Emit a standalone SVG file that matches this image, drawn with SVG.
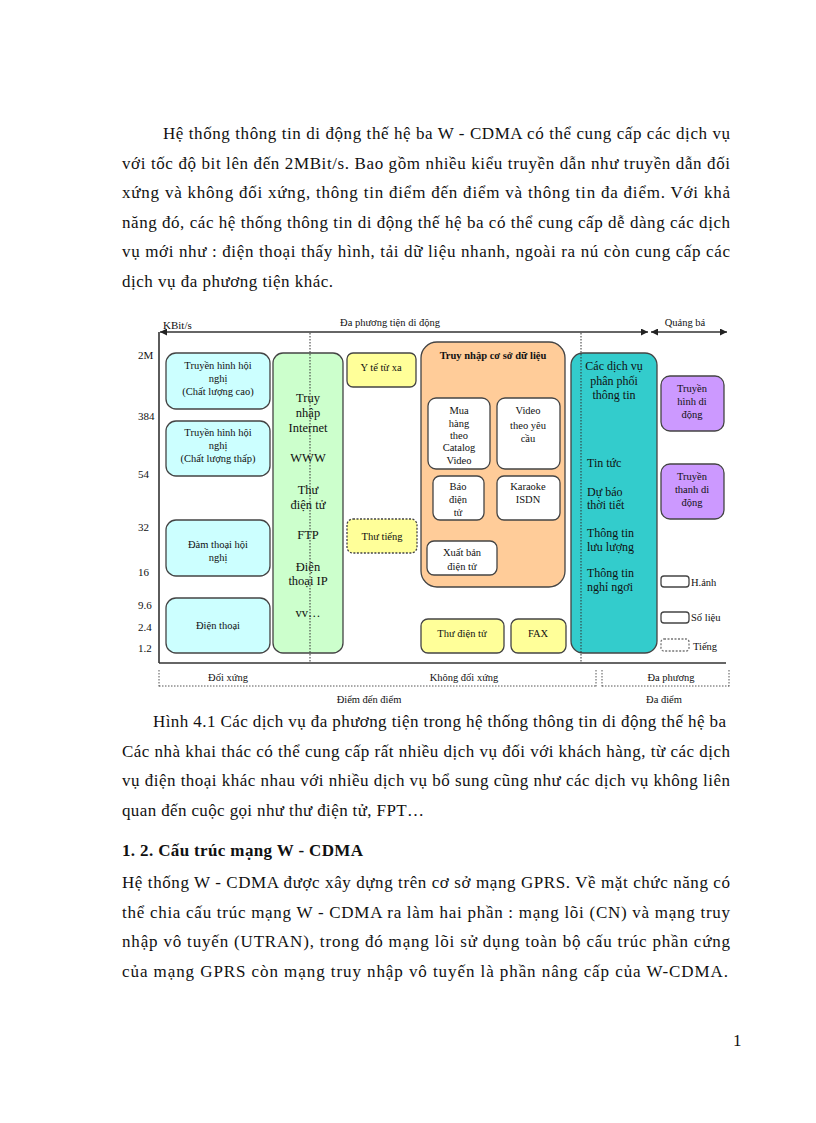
<svg xmlns="http://www.w3.org/2000/svg" width="816" height="1123" viewBox="0 0 816 1123">
<defs>
<style>
.body{font-family:"Liberation Serif","Times New Roman",serif;font-size:17px;fill:#111}
.bold{font-weight:bold}
.d{font-family:"Liberation Serif","Times New Roman",serif;font-size:10.5px;fill:#111;text-anchor:middle}
.dl{font-family:"Liberation Serif","Times New Roman",serif;font-size:10.5px;fill:#111}
.g{font-family:"Liberation Serif","Times New Roman",serif;font-size:12.5px;fill:#111;text-anchor:middle}
.t{font-family:"Liberation Serif","Times New Roman",serif;font-size:12px;fill:#111}
.ax{font-family:"Liberation Serif","Times New Roman",serif;font-size:11px;fill:#111}
.box{stroke:#444;stroke-width:1.3}
.cyan{fill:#ccffff}
.green{fill:#ccffcc}
.yel{fill:#ffff99}
.org{fill:#ffcc99}
.teal{fill:#33cccc}
.pur{fill:#cc99ff}
.wht{fill:#ffffff}
.dash{stroke-dasharray:2,1.5}
.axis{stroke:#333;stroke-width:1.6;fill:none}
.dot{stroke:#555;stroke-width:1;stroke-dasharray:1.5,1.5;fill:none}
</style>
<marker id="ah" viewBox="0 0 10 10" refX="10" refY="5" markerWidth="7" markerHeight="7" markerUnits="userSpaceOnUse" orient="auto-start-reverse">
<path d="M0,0 L10,5 L0,10 z" fill="#222"/>
</marker>
</defs>
<rect width="816" height="1123" fill="#ffffff"/>

<!-- paragraph 1 -->
<g id="para1">
<text class="body" x="163" y="139" textLength="567" lengthAdjust="spacing">Hệ thống thông tin di động thế hệ ba W - CDMA có thể cung cấp các dịch vụ</text>
<text class="body" x="122" y="168.5" textLength="608" lengthAdjust="spacing">với tốc độ bit lên đến 2MBit/s. Bao gồm nhiều kiểu truyền dẫn như truyền dẫn đối</text>
<text class="body" x="122" y="198" textLength="608" lengthAdjust="spacing">xứng và không đối xứng, thông tin điểm đến điểm và thông tin đa điểm. Với khả</text>
<text class="body" x="122" y="227.5" textLength="608" lengthAdjust="spacing">năng đó, các hệ thống thông tin di động thế hệ ba có thể cung cấp dễ dàng các dịch</text>
<text class="body" x="122" y="257" textLength="608" lengthAdjust="spacing">vụ mới như : điện thoại thấy hình, tải dữ liệu nhanh, ngoài ra nú còn cung cấp các</text>
<text class="body" x="122" y="286.5" textLength="211" lengthAdjust="spacing">dịch vụ đa phương tiện khác.</text>
</g>

<!-- axes -->
<g id="connectors">
<line class="axis" x1="159" y1="332" x2="159" y2="663"/>
<line class="axis" x1="159" y1="663" x2="726" y2="663"/>
<line class="axis" x1="160" y1="332" x2="648" y2="332" marker-start="url(#ah)" marker-end="url(#ah)"/>
<line class="axis" x1="651" y1="332" x2="727" y2="332" marker-start="url(#ah)" marker-end="url(#ah)"/>
<line class="dot" x1="159" y1="686" x2="596" y2="686"/>
<line class="dot" x1="602" y1="686" x2="729" y2="686"/>
<line class="dot" x1="159" y1="670" x2="159" y2="687"/>
<line class="dot" x1="596" y1="670" x2="596" y2="687"/>
<line class="dot" x1="602" y1="670" x2="602" y2="687"/>
<line class="dot" x1="729" y1="670" x2="729" y2="687"/>
</g>

<g id="axis-labels">
<text class="ax" x="163" y="329">KBit/s</text>
<text class="dl" x="390" y="326" text-anchor="middle">Đa phương tiện di động</text>
<text class="dl" x="685" y="326" text-anchor="middle">Quảng bá</text>
<text class="ax" x="138" y="359">2M</text>
<text class="ax" x="138" y="420">384</text>
<text class="ax" x="138" y="478">54</text>
<text class="ax" x="138" y="531">32</text>
<text class="ax" x="138" y="576">16</text>
<text class="ax" x="138" y="609">9.6</text>
<text class="ax" x="138" y="631">2.4</text>
<text class="ax" x="138" y="652">1.2</text>
<text class="d" x="228" y="681">Đối xứng</text>
<text class="d" x="464" y="681">Không đối xứng</text>
<text class="d" x="671" y="681">Đa phương</text>
<text class="d" x="369" y="703">Điểm đến điểm</text>
<text class="d" x="664" y="703">Đa điểm</text>
</g>

<g id="n-thh-cao">
<rect class="box cyan" x="166" y="353" width="104" height="56" rx="10"/>
<text class="d" x="218" y="369">Truyền hình hội</text>
<text class="d" x="218" y="382">nghị</text>
<text class="d" x="218" y="395">(Chất lượng cao)</text>
</g>
<g id="n-thh-thap">
<rect class="box cyan" x="166" y="421" width="104" height="55" rx="10"/>
<text class="d" x="218" y="436">Truyền hình hội</text>
<text class="d" x="218" y="449">nghị</text>
<text class="d" x="218" y="462">(Chất lượng thấp)</text>
</g>
<g id="n-damthoai">
<rect class="box cyan" x="166" y="520" width="104" height="56" rx="10"/>
<text class="d" x="218" y="548">Đàm thoại hội</text>
<text class="d" x="218" y="561">nghị</text>
</g>
<g id="n-dienthoai">
<rect class="box cyan" x="166" y="598" width="104" height="55" rx="10"/>
<text class="d" x="218" y="629">Điện thoại</text>
</g>

<g id="n-internet">
<rect class="box green" x="273" y="353" width="70" height="300" rx="10"/>
<text class="g" x="308" y="402">Truy</text>
<text class="g" x="308" y="417">nhập</text>
<text class="g" x="308" y="432">Internet</text>
<text class="g" x="308" y="462">WWW</text>
<text class="g" x="308" y="494">Thư</text>
<text class="g" x="308" y="509">điện tử</text>
<text class="g" x="308" y="539">FTP</text>
<text class="g" x="308" y="571">Điện</text>
<text class="g" x="308" y="585">thoại IP</text>
<text class="g" x="308" y="617">vv…</text>
</g>

<g id="n-yte">
<rect class="box yel" x="347" y="353" width="69" height="34" rx="6"/>
<text class="d" x="381" y="371">Y tế từ xa</text>
</g>
<g id="n-thutieng">
<rect class="box yel dash" x="347" y="519" width="70" height="34" rx="6"/>
<text class="d" x="382" y="540">Thư tiếng</text>
</g>
<g id="n-thudientu">
<rect class="box yel" x="421" y="619" width="83" height="34" rx="7"/>
<text class="d" x="462" y="637">Thư điện tử</text>
</g>
<g id="n-fax">
<rect class="box yel" x="511" y="619" width="55" height="34" rx="7"/>
<text class="d" x="538" y="637">FAX</text>
</g>

<g id="n-csdl">
<rect class="box org" x="421" y="342" width="144" height="245" rx="16"/>
<text class="d bold" x="493" y="359">Truy nhập cơ sở dữ liệu</text>
</g>
<g id="n-muahang">
<rect class="box wht" x="428" y="398" width="62" height="71" rx="8"/>
<text class="d" x="459" y="414">Mua</text>
<text class="d" x="459" y="427">hàng</text>
<text class="d" x="459" y="439">theo</text>
<text class="d" x="459" y="451">Catalog</text>
<text class="d" x="459" y="464">Video</text>
</g>
<g id="n-video">
<rect class="box wht" x="497" y="398" width="63" height="71" rx="8"/>
<text class="d" x="528" y="414">Video</text>
<text class="d" x="528" y="429">theo yêu</text>
<text class="d" x="528" y="442">cầu</text>
</g>
<g id="n-bao">
<rect class="box wht" x="433" y="476" width="51" height="44" rx="7"/>
<text class="d" x="458" y="490">Báo</text>
<text class="d" x="458" y="503">điện</text>
<text class="d" x="458" y="516">tử</text>
</g>
<g id="n-karaoke">
<rect class="box wht" x="497" y="476" width="63" height="44" rx="7"/>
<text class="d" x="528" y="490">Karaoke</text>
<text class="d" x="528" y="503">ISDN</text>
</g>
<g id="n-xuatban">
<rect class="box wht" x="427" y="541" width="70" height="34" rx="7"/>
<text class="d" x="462" y="556">Xuất bản</text>
<text class="d" x="462" y="570">điện tử</text>
</g>

<g id="n-phanphoi">
<rect class="box teal" x="571" y="353" width="86" height="300" rx="12"/>
<text class="t" x="614" y="370" text-anchor="middle">Các dịch vụ</text>
<text class="t" x="614" y="385" text-anchor="middle">phân phối</text>
<text class="t" x="614" y="399" text-anchor="middle">thông tin</text>
<text class="t" x="587" y="467">Tin tức</text>
<text class="t" x="587" y="496">Dự báo</text>
<text class="t" x="587" y="509">thời tiết</text>
<text class="t" x="587" y="537">Thông tin</text>
<text class="t" x="587" y="551">lưu lượng</text>
<text class="t" x="587" y="577">Thông tin</text>
<text class="t" x="587" y="591">nghỉ ngơi</text>
</g>

<g id="n-truyenhinh">
<rect class="box pur" x="661" y="376" width="63" height="55" rx="9"/>
<text class="d" x="692" y="392">Truyền</text>
<text class="d" x="692" y="405">hình di</text>
<text class="d" x="692" y="418">động</text>
</g>
<g id="n-truyenthanh">
<rect class="box pur" x="661" y="464" width="63" height="55" rx="9"/>
<text class="d" x="692" y="480">Truyền</text>
<text class="d" x="692" y="493">thanh di</text>
<text class="d" x="692" y="506">động</text>
</g>

<g id="legend">
<rect class="box wht" x="661" y="576" width="28" height="11" rx="3"/>
<text class="dl" x="691" y="586">H.ảnh</text>
<rect class="box wht" x="661" y="612" width="28" height="11" rx="3"/>
<text class="dl" x="691" y="621">Số liệu</text>
<rect class="box wht dash" x="661" y="639" width="28" height="12" rx="3" style="stroke:#777"/>
<text class="dl" x="693" y="650">Tiếng</text>
</g>

<g id="dividers">
<line class="dot" x1="310" y1="333" x2="310" y2="663" style="stroke:#333"/>
<line class="dot" x1="581" y1="333" x2="581" y2="663" style="stroke:#333"/>
</g>

<g id="para2">
<text class="body" x="153" y="727" textLength="573" lengthAdjust="spacing">Hình 4.1 Các dịch vụ đa phương tiện trong hệ thống thông tin di động thế hệ ba</text>
<text class="body" x="122" y="756.5" textLength="608" lengthAdjust="spacing">Các nhà khai thác có thể cung cấp rất nhiều dịch vụ đối với khách hàng, từ các dịch</text>
<text class="body" x="122" y="786" textLength="608" lengthAdjust="spacing">vụ điện thoại khác nhau với nhiều dịch vụ bổ sung cũng như các dịch vụ không liên</text>
<text class="body" x="122" y="815.5" textLength="302" lengthAdjust="spacing">quan đến cuộc gọi như thư điện tử, FPT…</text>
<text class="body bold" x="122" y="856" textLength="241" lengthAdjust="spacing">1. 2. Cấu trúc mạng W - CDMA</text>
<text class="body" x="122" y="888" textLength="608" lengthAdjust="spacing">Hệ thống W - CDMA được xây dựng trên cơ sở mạng GPRS. Về mặt chức năng có</text>
<text class="body" x="122" y="917.5" textLength="608" lengthAdjust="spacing">thể chia cấu trúc mạng W - CDMA ra làm hai phần : mạng lõi (CN) và mạng truy</text>
<text class="body" x="122" y="947" textLength="608" lengthAdjust="spacing">nhập vô tuyến (UTRAN), trong đó mạng lõi sử dụng toàn bộ cấu trúc phần cứng</text>
<text class="body" x="122" y="976.5" textLength="606" lengthAdjust="spacing">của mạng GPRS còn mạng truy nhập vô tuyến là phần nâng cấp của W-CDMA.</text>
<text class="body" x="733" y="1046">1</text>
</g>
</svg>
